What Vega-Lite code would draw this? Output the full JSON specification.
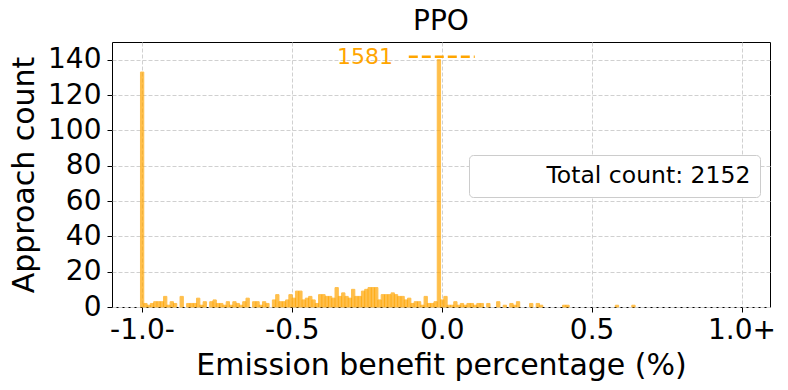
{
  "$schema": "https://vega.github.io/schema/vega-lite/v6.json",
  "width": 658,
  "height": 265,
  "autosize": {"type": "none"},
  "padding": {"left": 112, "top": 42, "right": 18, "bottom": 83},
  "title": {"text": "PPO", "fontSize": 28, "font": "DejaVu Sans", "fontWeight": "normal", "color": "black", "offset": 6},
  "datasets": {
    "bins": [
      {"lo": -1.005, "hi": -0.994, "count": 133},
      {"lo": -0.994, "hi": -0.983, "count": 2},
      {"lo": -0.983, "hi": -0.972, "count": 1},
      {"lo": -0.972, "hi": -0.961, "count": 2},
      {"lo": -0.961, "hi": -0.950, "count": 3},
      {"lo": -0.950, "hi": -0.939, "count": 3},
      {"lo": -0.939, "hi": -0.928, "count": 3},
      {"lo": -0.928, "hi": -0.917, "count": 6},
      {"lo": -0.917, "hi": -0.906, "count": 1},
      {"lo": -0.906, "hi": -0.895, "count": 3},
      {"lo": -0.895, "hi": -0.884, "count": 2},
      {"lo": -0.873, "hi": -0.862, "count": 6},
      {"lo": -0.851, "hi": -0.840, "count": 2},
      {"lo": -0.840, "hi": -0.829, "count": 2},
      {"lo": -0.829, "hi": -0.818, "count": 2},
      {"lo": -0.818, "hi": -0.807, "count": 5},
      {"lo": -0.807, "hi": -0.796, "count": 1},
      {"lo": -0.796, "hi": -0.785, "count": 3},
      {"lo": -0.774, "hi": -0.763, "count": 3},
      {"lo": -0.763, "hi": -0.752, "count": 4},
      {"lo": -0.752, "hi": -0.741, "count": 2},
      {"lo": -0.741, "hi": -0.730, "count": 2},
      {"lo": -0.730, "hi": -0.719, "count": 1},
      {"lo": -0.719, "hi": -0.708, "count": 3},
      {"lo": -0.708, "hi": -0.697, "count": 1},
      {"lo": -0.697, "hi": -0.686, "count": 3},
      {"lo": -0.686, "hi": -0.675, "count": 2},
      {"lo": -0.675, "hi": -0.664, "count": 1},
      {"lo": -0.664, "hi": -0.653, "count": 3},
      {"lo": -0.653, "hi": -0.642, "count": 5},
      {"lo": -0.631, "hi": -0.620, "count": 3},
      {"lo": -0.620, "hi": -0.609, "count": 3},
      {"lo": -0.609, "hi": -0.598, "count": 1},
      {"lo": -0.598, "hi": -0.587, "count": 3},
      {"lo": -0.587, "hi": -0.576, "count": 2},
      {"lo": -0.565, "hi": -0.554, "count": 4},
      {"lo": -0.554, "hi": -0.543, "count": 7},
      {"lo": -0.543, "hi": -0.532, "count": 3},
      {"lo": -0.532, "hi": -0.521, "count": 3},
      {"lo": -0.521, "hi": -0.510, "count": 4},
      {"lo": -0.510, "hi": -0.499, "count": 7},
      {"lo": -0.499, "hi": -0.488, "count": 5},
      {"lo": -0.488, "hi": -0.477, "count": 9},
      {"lo": -0.477, "hi": -0.466, "count": 9},
      {"lo": -0.466, "hi": -0.455, "count": 4},
      {"lo": -0.455, "hi": -0.444, "count": 5},
      {"lo": -0.444, "hi": -0.433, "count": 6},
      {"lo": -0.433, "hi": -0.422, "count": 4},
      {"lo": -0.422, "hi": -0.411, "count": 2},
      {"lo": -0.411, "hi": -0.400, "count": 7},
      {"lo": -0.400, "hi": -0.389, "count": 7},
      {"lo": -0.389, "hi": -0.378, "count": 6},
      {"lo": -0.378, "hi": -0.367, "count": 6},
      {"lo": -0.367, "hi": -0.356, "count": 5},
      {"lo": -0.356, "hi": -0.345, "count": 11},
      {"lo": -0.345, "hi": -0.334, "count": 6},
      {"lo": -0.334, "hi": -0.323, "count": 8},
      {"lo": -0.323, "hi": -0.312, "count": 6},
      {"lo": -0.312, "hi": -0.301, "count": 5},
      {"lo": -0.301, "hi": -0.290, "count": 10},
      {"lo": -0.290, "hi": -0.279, "count": 6},
      {"lo": -0.279, "hi": -0.268, "count": 6},
      {"lo": -0.268, "hi": -0.257, "count": 9},
      {"lo": -0.257, "hi": -0.246, "count": 10},
      {"lo": -0.246, "hi": -0.235, "count": 11},
      {"lo": -0.235, "hi": -0.224, "count": 11},
      {"lo": -0.224, "hi": -0.213, "count": 11},
      {"lo": -0.213, "hi": -0.202, "count": 4},
      {"lo": -0.202, "hi": -0.191, "count": 7},
      {"lo": -0.191, "hi": -0.180, "count": 7},
      {"lo": -0.180, "hi": -0.169, "count": 7},
      {"lo": -0.169, "hi": -0.158, "count": 8},
      {"lo": -0.158, "hi": -0.147, "count": 7},
      {"lo": -0.147, "hi": -0.136, "count": 6},
      {"lo": -0.136, "hi": -0.125, "count": 6},
      {"lo": -0.125, "hi": -0.114, "count": 4},
      {"lo": -0.114, "hi": -0.103, "count": 5},
      {"lo": -0.103, "hi": -0.092, "count": 2},
      {"lo": -0.092, "hi": -0.081, "count": 3},
      {"lo": -0.081, "hi": -0.070, "count": 3},
      {"lo": -0.070, "hi": -0.059, "count": 1},
      {"lo": -0.059, "hi": -0.048, "count": 6},
      {"lo": -0.048, "hi": -0.037, "count": 2},
      {"lo": -0.037, "hi": -0.026, "count": 2},
      {"lo": -0.026, "hi": -0.015, "count": 3},
      {"lo": -0.015, "hi": -0.004, "count": 140},
      {"lo": -0.004, "hi": 0.007, "count": 4},
      {"lo": 0.007, "hi": 0.018, "count": 6},
      {"lo": 0.018, "hi": 0.029, "count": 1},
      {"lo": 0.029, "hi": 0.040, "count": 1},
      {"lo": 0.040, "hi": 0.051, "count": 3},
      {"lo": 0.051, "hi": 0.062, "count": 1},
      {"lo": 0.062, "hi": 0.073, "count": 2},
      {"lo": 0.073, "hi": 0.084, "count": 1},
      {"lo": 0.084, "hi": 0.095, "count": 2},
      {"lo": 0.095, "hi": 0.106, "count": 2},
      {"lo": 0.106, "hi": 0.117, "count": 1},
      {"lo": 0.117, "hi": 0.128, "count": 2},
      {"lo": 0.128, "hi": 0.139, "count": 2},
      {"lo": 0.150, "hi": 0.161, "count": 2},
      {"lo": 0.183, "hi": 0.194, "count": 3},
      {"lo": 0.205, "hi": 0.216, "count": 1},
      {"lo": 0.227, "hi": 0.238, "count": 2},
      {"lo": 0.238, "hi": 0.249, "count": 1},
      {"lo": 0.249, "hi": 0.260, "count": 3},
      {"lo": 0.293, "hi": 0.304, "count": 2},
      {"lo": 0.315, "hi": 0.326, "count": 2},
      {"lo": 0.326, "hi": 0.337, "count": 1},
      {"lo": 0.403, "hi": 0.414, "count": 1},
      {"lo": 0.414, "hi": 0.425, "count": 1},
      {"lo": 0.579, "hi": 0.590, "count": 1},
      {"lo": 0.634, "hi": 0.645, "count": 1}
    ],
    "note": [
      {"x0": -0.11, "x1": 0.11, "y": 141.6, "tx": -0.163, "label": "1581"}
    ],
    "legend": [
      {"label": "Total count: 2152"}
    ]
  },
  "layer": [
    {
      "data": {"name": "bins"},
      "mark": {"type": "rect", "color": "#FFA500", "opacity": 0.7, "stroke": "#FFA500", "strokeWidth": 1},
      "encoding": {
        "x": {
          "field": "lo", "type": "quantitative",
          "scale": {"domain": [-1.1, 1.095], "nice": false, "zero": false},
          "axis": {
            "values": [-1, -0.5, 0, 0.5, 1],
            "labelExpr": "datum.value == -1 ? '-1.0-' : datum.value == -0.5 ? '-0.5' : datum.value == 0 ? '0.0' : datum.value == 0.5 ? '0.5' : '1.0+'",
            "title": "Emission benefit percentage (%)",
            "labelPadding": 4,
            "titlePadding": 6,
            "labelOverlap": false,
            "labelBound": false,
            "labelFlush": false
          }
        },
        "x2": {"field": "hi"},
        "y": {
          "field": "count", "type": "quantitative",
          "scale": {"domain": [0, 150], "nice": false},
          "axis": {
            "values": [0, 20, 40, 60, 80, 100, 120, 140],
            "tickCount": 8,
            "title": "Approach count",
            "labelPadding": 6,
            "titlePadding": 8,
            "labelOverlap": false,
            "labelBound": false,
            "labelFlush": false
          }
        },
        "y2": {"datum": 0}
      }
    },
    {
      "data": {"name": "note"},
      "mark": {"type": "rule", "color": "#FFA500", "strokeWidth": 2.5, "strokeDash": [9, 4]},
      "encoding": {
        "x": {"field": "x0", "type": "quantitative", "axis": {"values": [-1, -0.5, 0, 0.5, 1]}},
        "x2": {"field": "x1"},
        "y": {"field": "y", "type": "quantitative", "axis": {"values": [0, 20, 40, 60, 80, 100, 120, 140], "tickCount": 8, "labelOverlap": false}}
      }
    },
    {
      "data": {"name": "note"},
      "mark": {"type": "text", "align": "right", "baseline": "middle", "fontSize": 22, "color": "#FFA500", "font": "DejaVu Sans"},
      "encoding": {
        "x": {"field": "tx", "type": "quantitative", "axis": {"values": [-1, -0.5, 0, 0.5, 1]}},
        "y": {"field": "y", "type": "quantitative", "axis": {"values": [0, 20, 40, 60, 80, 100, 120, 140], "tickCount": 8, "labelOverlap": false}},
        "text": {"field": "label"}
      }
    },
    {
      "data": {"name": "legend"},
      "mark": {"type": "point", "opacity": 0},
      "encoding": {
        "color": {
          "field": "label", "type": "nominal",
          "scale": {"range": ["white"]},
          "legend": {
            "orient": "none", "legendX": 357, "legendY": 113,
            "title": null,
            "labelFontSize": 23.5, "labelFont": "DejaVu Sans", "labelColor": "black", "labelLimit": 0,
            "symbolOpacity": 0, "symbolSize": 100, "labelOffset": 45,
            "strokeColor": "#cccccc", "fillColor": "white", "padding": 9, "cornerRadius": 4
          }
        }
      }
    }
  ],
  "config": {
    "font": "DejaVu Sans",
    "view": {"stroke": "black", "strokeWidth": 1},
    "axis": {
      "domain": false,
      "tickColor": "black",
      "tickSize": 5,
      "labelColor": "black",
      "titleColor": "black",
      "labelFont": "DejaVu Sans",
      "titleFont": "DejaVu Sans",
      "labelFontSize": 28,
      "titleFontSize": 30,
      "titleFontWeight": "normal",
      "labelOverlap": false,
      "grid": true,
      "gridColor": "#d0d0d0",
      "gridDash": [4, 2]
    }
  }
}
